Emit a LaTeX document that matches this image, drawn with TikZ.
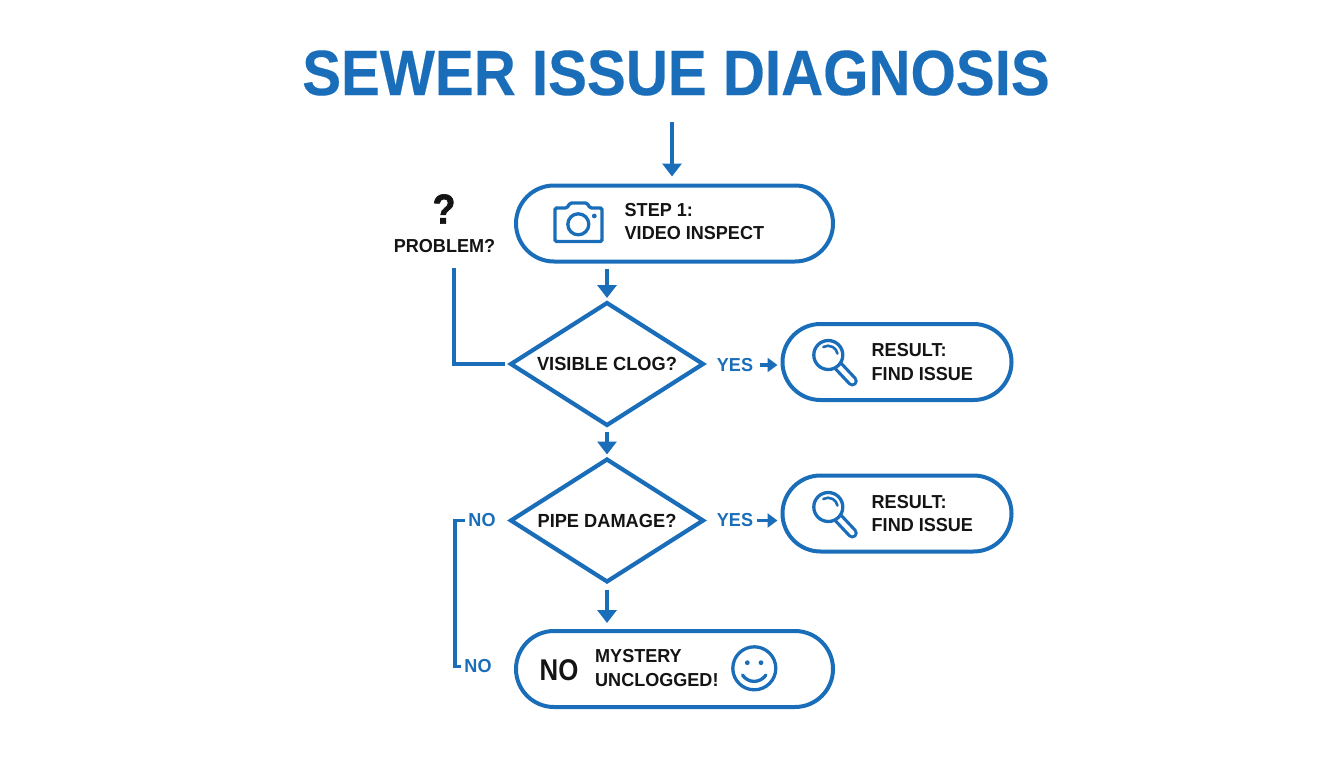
\documentclass[tikz,border=0pt]{standalone}
\usepackage{fontspec}
\setmainfont{Liberation Sans}[FakeStretch=0.96]
\newfontfamily\titlefont{Liberation Sans}[FakeStretch=0.91,FakeBold=0.3]
\newfontfamily\markfont{Liberation Sans}[FakeStretch=0.9,FakeBold=1.5]
\newfontfamily\nofont{Liberation Sans}[FakeStretch=0.86]
\usetikzlibrary{arrows.meta,calc,positioning,shapes.geometric,shapes.misc}
\definecolor{pipeblue}{HTML}{1A6EB9}
\definecolor{inkblack}{HTML}{141414}
\tikzstyle{pill} = [rounded rectangle, minimum width=317pt, minimum height=76pt, inner sep=0pt, outer sep=0pt, draw=pipeblue, line width=4pt]
\tikzstyle{result} = [pill, minimum width=229pt]
\tikzstyle{decision} = [diamond, aspect=1.57, minimum width=192pt, minimum height=122pt, inner sep=0pt, outer sep=0pt, draw=pipeblue, line width=4.2pt, text=inkblack, font=\fontsize{19}{23}\selectfont\bfseries]
\tikzstyle{boxtext} = [anchor=west, align=left, inner sep=0pt, text=inkblack, font=\fontsize{18.8}{23.6}\selectfont\bfseries]
\tikzstyle{answer} = [inner sep=0pt, text=pipeblue, font=\fontsize{18.8}{22}\selectfont\bfseries]
\tikzstyle{arrow} = [draw=pipeblue, line width=3.4pt, -{Triangle[width=19pt,length=13pt]}]
\tikzstyle{smallarrow} = [draw=pipeblue, line width=3.2pt, -{Triangle[width=14pt,length=10pt]}]
\tikzstyle{link} = [draw=pipeblue, line width=3.6pt]
\tikzstyle{icon} = [draw=pipeblue, line width=3.3pt]
\tikzset{
  magnifier/.pic={
    \draw [pipeblue, line width=11pt, line cap=round] (9,-10) -- (24,-26);
    \draw [white, line width=4.5pt, line cap=round] (9,-10) -- (24,-26);
    \draw [icon, fill=white] (0,0) circle (14.5pt);
    \draw [icon, line width=2.6pt, line cap=round] (-5,8) arc (120:10:9.5pt);
  }
}

\begin{document}
\begin{tikzpicture}[x=1pt, y=1pt, node distance=100pt]
\useasboundingbox (0,0) rectangle (1344,-768);

\node (title) [text=pipeblue, inner sep=0pt, font=\fontsize{64}{64}\selectfont\titlefont\bfseries] at (676,-73) {SEWER ISSUE DIAGNOSIS};
\coordinate (start) at (672,-122);

\node (step) [pill] at (674.5,-223.5) {};
\node (clog) [decision, below of=step, xshift=-67.5pt, yshift=-40.5pt] {VISIBLE CLOG?};
\node (damage) [decision, below of=clog, yshift=-56.5pt] {PIPE DAMAGE?};
\node (finish) [pill, below of=damage, xshift=67.5pt, yshift=-48.5pt] {};
\node (found1) [result, right of=clog, xshift=190pt, yshift=2pt] {};
\node (found2) [result, right of=damage, xshift=190pt, yshift=7pt] {};

\node (steptext) [boxtext, xshift=108.5pt, yshift=2pt] at (step.west) {STEP 1:\\VIDEO INSPECT};
\node (foundtext1) [boxtext, xshift=89pt] at (found1.west) {RESULT:\\FIND ISSUE};
\node (foundtext2) [boxtext, xshift=89pt] at (found2.west) {RESULT:\\FIND ISSUE};
\node (finishno) [inner sep=0pt, text=inkblack, font=\fontsize{30}{30}\selectfont\nofont\bfseries, xshift=43pt, yshift=-1pt] at (finish.west) {NO};
\node (finishtext) [boxtext, xshift=79pt, yshift=1pt] at (finish.west) {MYSTERY\\UNCLOGGED!};

\node (mark) [inner sep=0pt, text=inkblack, font=\fontsize{42}{42}\selectfont\markfont\bfseries] at (444,-209) {?};
\node (problem) [inner sep=0pt, text=inkblack, font=\fontsize{18.8}{22}\selectfont\bfseries] at (444.5,-246) {PROBLEM?};

\node (yes1) [answer, right of=clog, xshift=28pt, yshift=-1pt] {YES};
\node (yes2) [answer, right of=damage, xshift=28pt] {YES};
\node (no1) [answer, left of=damage, xshift=-25pt] {NO};
\node (no2) [answer, below of=no1, xshift=-4pt, yshift=-46pt] {NO};
\coordinate (ptop) at (454,-268);

\draw [arrow, shorten >=9pt] (start) -- (start |- step.north);
\draw [arrow, shorten <=7pt, shorten >=5pt] (clog |- step.south) -- (clog.north);
\draw [arrow, shorten <=7pt, shorten >=5pt] (clog.south) -- (damage.north);
\draw [arrow, shorten <=8pt, shorten >=8pt] (damage.south) -- (damage |- finish.north);
\draw [smallarrow, shorten >=5pt, shorten <=7pt] (yes1.east) -- (yes1.east -| found1.west);
\draw [smallarrow, shorten >=5pt, shorten <=4pt] (yes2.east) -- (yes2.east -| found2.west);
\draw [link, shorten >=6pt] (ptop) |- (clog.west);
\draw [link, shorten <=3pt, shorten >=3pt] (no1.west) -- ++(-13,0) |- (no2.west);

% icons
\draw [icon, rounded corners=1.5pt] (555,-208) -- (567,-208) -- (570,-203) -- (587,-203) -- (590,-208) -- (602,-208) -- (602,-241.5) -- (555,-241.5) -- cycle;
\draw [icon] (578.3,-224.3) circle (10.5pt);
\fill [pipeblue] (594.3,-216) circle (2.4pt);
\pic at (828.3,-355) {magnifier};
\pic at (828.3,-507) {magnifier};
\draw [icon] (754.3,-668.3) circle (21.5pt);
\fill [pipeblue] (747.3,-662.7) circle (2.4pt) (761,-662.7) circle (2.4pt);
\draw [icon, line cap=round] (742.5,-675) .. controls (748,-683.5) and (760,-683.5) .. (766,-675);

\end{tikzpicture}
\end{document}
